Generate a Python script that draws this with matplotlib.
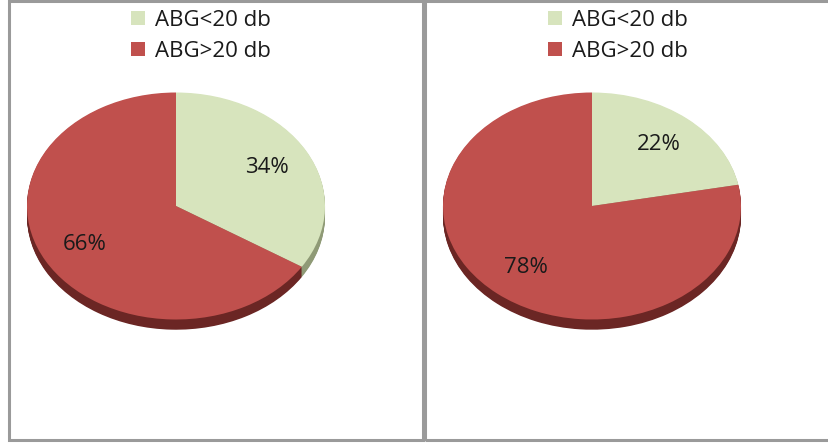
import matplotlib
matplotlib.use("Agg")
import matplotlib.pyplot as plt
from matplotlib.patches import Rectangle, Patch

# ── Data ──────────────────────────────────────────────────────────────────────
categories = ["ABG<20 db", "ABG>20 db"]
left_values = [34, 66]
right_values = [22, 78]

top_colors = ["#d7e4bd", "#c0504d"]
side_colors = ["#8f9a76", "#6b2624"]

plt.rcParams["font.family"] = ["Open Sans", "DejaVu Sans"]

W, H = 829, 443
fig = plt.figure(figsize=(W / 100, H / 100), dpi=100)

# ── Panel frames ──────────────────────────────────────────────────────────────
for x0, x1 in [(9, 423), (425, 835)]:
    fig.patches.append(Rectangle((x0 / W, (H - 440) / H), (x1 - x0) / W, 439 / H,
                                 transform=fig.transFigure, fill=False,
                                 edgecolor="#9a9a9a", linewidth=2.2))


def draw_pie(values, cx, cy, rx=149, ry=113.5, depth=0.09):
    # axes box in pixels, 1 data unit = rx px horizontally, ry px vertically
    xl, xh, yl, yh = -1.1, 1.1, -1.25, 1.1
    left = (cx + xl * rx) / W
    bottom = (H - (cy - yl * ry)) / H
    ax = fig.add_axes([left, bottom, (xh - xl) * rx / W, (yh - yl) * ry / H])

    # stacked copies below the top face give the pie its thickness
    n = 12
    for i in range(n, 0, -1):
        ax.pie(values, colors=side_colors, startangle=90, counterclock=False,
               center=(0, -depth * i / n), radius=1,
               wedgeprops=dict(linewidth=0))

    ax.pie(values, colors=top_colors, startangle=90,
           counterclock=False, radius=1,
           autopct="%d%%", pctdistance=0.7,
           wedgeprops=dict(linewidth=0),
           textprops=dict(fontsize=16, color="#1a1a1a"))
    ax.set_aspect("auto")
    ax.set_xlim(xl, xh)
    ax.set_ylim(yl, yh)
    ax.axis("off")
    return ax


draw_pie(left_values, 176, 206)
draw_pie(right_values, 592, 206)

handles = [Patch(facecolor=c, edgecolor="none") for c in top_colors]
for lx in [201, 618]:
    fig.legend(handles, categories, loc="upper center",
               bbox_to_anchor=(lx / W, 1 + 1 / H), frameon=False,
               fontsize=16, handlelength=0.6, handleheight=0.6,
               handletextpad=0.45, labelspacing=0.43, borderpad=0.0,
               labelcolor="#1a1a1a")

fig.savefig("out.png", dpi=100)
